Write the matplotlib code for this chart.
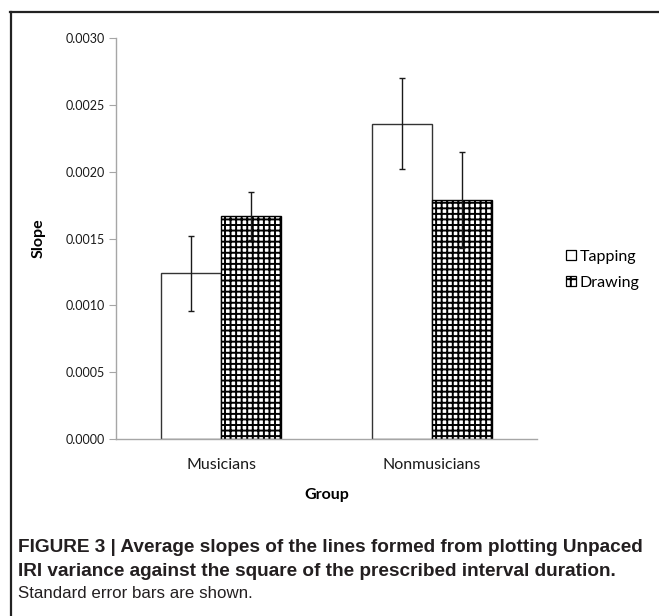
"""
Average slopes (Tapping vs Drawing) for Musicians and Nonmusicians, with SE bars.
"""
import numpy as np
import matplotlib
matplotlib.use('Agg')
import matplotlib.pyplot as plt
from matplotlib.patches import Patch
from matplotlib.lines import Line2D
from matplotlib.ticker import FormatStrFormatter

# Data
groups = ['Musicians', 'Nonmusicians']
series = ['Tapping', 'Drawing']
tapping = [0.00124, 0.00236]
tapping_se = [0.00028, 0.00034]
drawing = [0.00167, 0.00179]
drawing_se = [0.00018, 0.00036]
yticks = [0.0000, 0.0005, 0.0010, 0.0015, 0.0020, 0.0025, 0.0030]

caption_bold = ['FIGURE 3 | Average slopes of the lines formed from plotting Unpaced',
                'IRI variance against the square of the prescribed interval duration.']
caption_plain = 'Standard error bars are shown.'

plt.rcParams['font.family'] = ['Lato', 'DejaVu Sans']
plt.rcParams['hatch.linewidth'] = 1.4
plt.rcParams['hatch.color'] = 'black'

W, H = 659, 616
fig = plt.figure(figsize=(W / 100, H / 100), dpi=100)

# axes placed in pixel terms of the original
ax_l, ax_r, ax_t, ax_b = 116, 537, 38, 439
ax = fig.add_axes([ax_l / W, 1 - ax_b / H, (ax_r - ax_l) / W, (ax_b - ax_t) / H])

x = np.arange(len(groups))
w = 0.285
ekw = dict(ecolor='#1a1a1a', elinewidth=1.0, capsize=2.5, capthick=1.0)
ax.bar(x - w / 2, tapping, w, color='white', edgecolor='#333333', linewidth=1.0,
       yerr=tapping_se, error_kw=ekw)
ax.bar(x + w / 2, drawing, w, color='white', edgecolor='black', linewidth=1.0, hatch='+++',
       yerr=drawing_se, error_kw=ekw)

ax.set_xlim(-0.5, 1.5)
ax.set_ylim(0, 0.0030)
ax.set_yticks(yticks)
ax.yaxis.set_major_formatter(FormatStrFormatter('%.4f'))
ax.set_xticks(x)
ax.set_xticklabels(groups)

for s in ['top', 'right']:
    ax.spines[s].set_visible(False)
for s in ['left', 'bottom']:
    ax.spines[s].set_color('#a6a6a6')
    ax.spines[s].set_linewidth(1.0)

ax.tick_params(axis='y', direction='out', length=5, width=0.8, color='#a6a6a6',
               labelsize=9, pad=3, labelcolor='#1a1a1a')
ax.tick_params(axis='x', length=0, labelsize=11.5, pad=14, labelcolor='#1a1a1a')

ax.set_ylabel('Slope', fontsize=11.5, fontweight='bold')
ax.yaxis.set_label_coords((46 - ax_l) / (ax_r - ax_l), 0.5)
ax.set_xlabel('Group', fontsize=11.5, fontweight='bold')
ax.xaxis.set_label_coords(0.501, (ax_b - 488) / (ax_b - ax_t))

handles = [Patch(facecolor='white', edgecolor='black', linewidth=0.9),
           Patch(facecolor='white', edgecolor='black', linewidth=0.9, hatch='++')]
fig.legend(handles, series, loc='center left', bbox_to_anchor=(558 / W, 1 - 270 / H),
           frameon=False, fontsize=11.5, handlelength=0.6, handleheight=0.6,
           handletextpad=0.25, labelspacing=0.75, borderpad=0)

# frame lines (top and left) of the figure panel
fig.add_artist(Line2D([10 / W, 1], [1 - 12 / H, 1 - 12 / H], color='#222222', lw=1.6))
fig.add_artist(Line2D([11 / W, 11 / W], [1 - 12 / H, 0], color='#222222', lw=1.6))

cap_font = ['Liberation Sans', 'DejaVu Sans']
fig.text(18 / W, 1 - 547 / H, caption_bold[0], family=cap_font, fontweight='bold',
         fontsize=13.7, va='center', color='#231f20')
fig.text(18 / W, 1 - 571 / H, caption_bold[1], family=cap_font, fontweight='bold',
         fontsize=13.7, va='center', color='#231f20')
fig.text(18 / W, 1 - 594 / H, caption_plain, family=cap_font,
         fontsize=12.2, va='center', color='#231f20')

plt.savefig('out.png', dpi=100, facecolor='white')
